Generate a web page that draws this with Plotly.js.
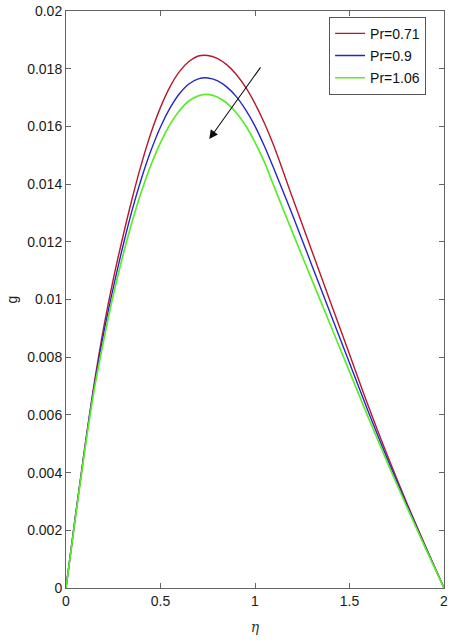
<!DOCTYPE html>
<html>
<head>
<meta charset="utf-8">
<script src="https://cdn.plot.ly/plotly-3.0.1.min.js"></script>
<style>html,body{margin:0;padding:0;background:#fff}#chart{width:455px;height:640px}</style>
</head>
<body>
<div id="chart"></div>
<script>
// Pr = 0.71
var etaRed = [0, 0.05, 0.1, 0.15, 0.2, 0.25, 0.3, 0.35, 0.4, 0.45, 0.5, 0.55, 0.6, 0.65, 0.7, 0.75, 0.8, 0.85, 0.9, 0.95, 1.0, 1.05, 1.1, 1.2, 1.3, 1.4, 1.5, 1.6, 1.7, 1.8, 1.9, 2.0];
var gRed   = [0, 0.0025, 0.0049, 0.00712, 0.00905, 0.0107, 0.01215, 0.0135, 0.01472, 0.01578, 0.01666, 0.01737, 0.0179, 0.01825, 0.01844, 0.01846, 0.01836, 0.01814, 0.01781, 0.01736, 0.01679, 0.01611, 0.01532, 0.0135, 0.0117, 0.0099, 0.0081, 0.0063, 0.0046, 0.0030, 0.00148, 0];
// Pr = 0.9
var etaBlue = [0, 0.05, 0.1, 0.15, 0.2, 0.25, 0.3, 0.35, 0.4, 0.45, 0.5, 0.55, 0.6, 0.65, 0.7, 0.75, 0.8, 0.85, 0.9, 0.95, 1.0, 1.05, 1.1, 1.2, 1.3, 1.4, 1.5, 1.6, 1.7, 1.8, 1.9, 2.0];
var gBlue   = [0, 0.0025, 0.00487, 0.00702, 0.00885, 0.0104, 0.01182, 0.0131, 0.01421, 0.01517, 0.01598, 0.01663, 0.01713, 0.01747, 0.01765, 0.01768, 0.01759, 0.01737, 0.01704, 0.01658, 0.01601, 0.01531, 0.01453, 0.0129, 0.0112, 0.0095, 0.0078, 0.0061, 0.00448, 0.00294, 0.00145, 0];
// Pr = 1.06
var etaGreen = [0, 0.05, 0.1, 0.15, 0.2, 0.25, 0.3, 0.35, 0.4, 0.45, 0.5, 0.55, 0.6, 0.65, 0.7, 0.75, 0.8, 0.85, 0.9, 0.95, 1.0, 1.05, 1.1, 1.2, 1.3, 1.4, 1.5, 1.6, 1.7, 1.8, 1.9, 2.0];
var gGreen   = [0, 0.00245, 0.0048, 0.0069, 0.0086, 0.01015, 0.0115, 0.0127, 0.01376, 0.01467, 0.01544, 0.01606, 0.01654, 0.01688, 0.01706, 0.01711, 0.01702, 0.01681, 0.01648, 0.01603, 0.01545, 0.01476, 0.01393, 0.0123, 0.0107, 0.0091, 0.0075, 0.0059, 0.00435, 0.00286, 0.00141, 0];

var seriesNames = ['Pr=0.71', 'Pr=0.9', 'Pr=1.06'];
var xTicks = [0, 0.5, 1, 1.5, 2];
var xTickText = ['0', '0.5', '1', '1.5', '2'];
var yTicks = [0, 0.002, 0.004, 0.006, 0.008, 0.01, 0.012, 0.014, 0.016, 0.018, 0.02];
var yTickText = ['0', '0.002', '0.004', '0.006', '0.008', '0.01', '0.012', '0.014', '0.016', '0.018', '0.02'];
// arrow (tail -> head) in data coordinates
var arrowTail = [1.035, 0.0181];
var arrowHead = [0.758, 0.01556];

var font = 'Liberation Sans, Arial, sans-serif';
var traces = [
  {x: etaRed, y: gRed, name: seriesNames[0], legendgroup: 'a', mode: 'lines', line: {color: '#b8172c', width: 1.4, shape: 'spline', smoothing: 1}},
  {x: etaBlue, y: gBlue, name: seriesNames[1], legendgroup: 'b', mode: 'lines', line: {color: '#2626c8', width: 1.4, shape: 'spline', smoothing: 1}},
  {x: etaGreen, y: gGreen, name: seriesNames[2], legendgroup: 'c', mode: 'lines', line: {color: '#5aec2a', width: 1.7, shape: 'spline', smoothing: 1}}
];
var axisCommon = {
  showline: true, linecolor: '#5f6466', linewidth: 1, mirror: 'ticks',
  ticks: 'inside', ticklen: 5, tickcolor: '#5f6466', tickwidth: 1,
  showgrid: false, zeroline: false,
  tickfont: {family: font, size: 14, color: '#1a1a1a'}
};
var layout = {
  width: 455, height: 640,
  margin: {l: 66, r: 11, t: 11, b: 52},
  paper_bgcolor: '#fff', plot_bgcolor: '#fff',
  showlegend: true,
  legend: {
    x: 0.696, y: 0.99, xanchor: 'left', yanchor: 'top',
    bgcolor: '#fff', bordercolor: '#555', borderwidth: 1,
    font: {family: font, size: 14, color: '#111'},
    traceorder: 'grouped', tracegroupgap: 1
  },
  xaxis: Object.assign({}, axisCommon, {
    range: [0, 2], tickmode: 'array', tickvals: xTicks, ticktext: xTickText,
    title: {text: '<i>η</i>', font: {family: 'DejaVu Serif, serif', size: 14, color: '#333'}, standoff: 14}
  }),
  yaxis: Object.assign({}, axisCommon, {
    range: [0, 0.02], tickmode: 'array', tickvals: yTicks, ticktext: yTickText,
    title: {text: 'g', font: {family: font, size: 14, color: '#222'}, standoff: 6}
  }),
  annotations: [{
    x: arrowHead[0], y: arrowHead[1], ax: arrowTail[0], ay: arrowTail[1],
    xref: 'x', yref: 'y', axref: 'x', ayref: 'y',
    showarrow: true, arrowhead: 2, arrowsize: 1.6, arrowwidth: 1.1, arrowcolor: '#111', text: ''
  }]
};
Plotly.newPlot('chart', traces, layout, {displayModeBar: false, staticPlot: true});
</script>
</body>
</html>
